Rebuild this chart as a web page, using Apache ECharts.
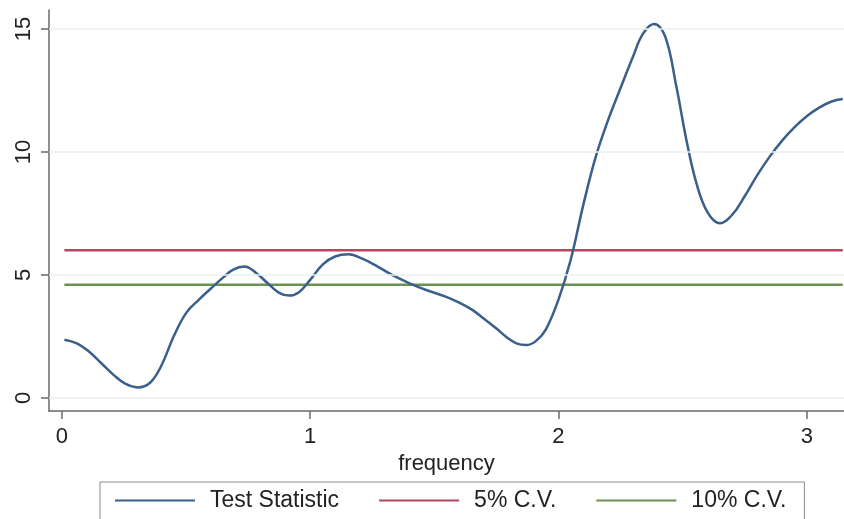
<!DOCTYPE html>
<html>
<head>
<meta charset="utf-8">
<title>Test Statistic by frequency</title>
<script src="https://cdn.jsdelivr.net/npm/echarts@6/dist/echarts.min.js"></script>
<style>
  html, body { margin: 0; padding: 0; background: #fff; }
  #chart { width: 844px; height: 519px; }
</style>
</head>
<body>
<div id="chart"></div>
<script>
// Test statistic traced over frequency (0 .. pi)
const frequency = [
  0.01, 0.06, 0.11, 0.16, 0.21, 0.255, 0.305, 0.355, 0.40, 0.45,
  0.50, 0.55, 0.60, 0.65, 0.69, 0.735, 0.78, 0.83, 0.875, 0.915,
  0.955, 1.00, 1.05, 1.10, 1.155, 1.21, 1.27, 1.33, 1.40, 1.47,
  1.54, 1.60, 1.65, 1.70, 1.75, 1.79, 1.83, 1.87, 1.91, 1.95,
  2.00, 2.05, 2.10, 2.15, 2.20, 2.25, 2.30, 2.34, 2.385, 2.43,
  2.475, 2.515, 2.555, 2.60, 2.65, 2.70, 2.75, 2.80, 2.85, 2.90,
  2.95, 3.00, 3.05, 3.10, 3.145
];
const testStatistic = [
  2.37, 2.22, 1.88, 1.40, 0.92, 0.58, 0.43, 0.62, 1.30, 2.50,
  3.45, 3.98, 4.45, 4.90, 5.22, 5.34, 5.10, 4.65, 4.27, 4.16,
  4.30, 4.80, 5.42, 5.75, 5.84, 5.66, 5.35, 5.00, 4.66, 4.38,
  4.14, 3.88, 3.60, 3.22, 2.82, 2.48, 2.22, 2.15, 2.32, 2.80,
  4.00, 5.65, 7.85, 9.80, 11.30, 12.60, 13.87, 14.80, 15.20, 14.69,
  12.65, 10.50, 8.75, 7.55, 7.10, 7.45, 8.20, 9.05, 9.80, 10.45,
  11.00, 11.45, 11.80, 12.05, 12.15
];
// Critical values
const cv5 = 6.0;
const cv10 = 4.6;

const xTicks = [0, 1, 2, 3];
const yTicks = [0, 5, 10, 15];
const xRange = [-0.052, 3.15];
const yRange = [-0.53, 15.77];

const FONT = '"Liberation Sans", Arial, sans-serif';
const TEXT = '#222';
const AXIS = '#6a6a6a';
const BLUE = '#3a5f8b';
const RED = '#b4485c';
const GREEN = '#6b9150';
const GRID = '#e8f1f1';

const chart = echarts.init(document.getElementById('chart'), null, { renderer: 'canvas' });

const option = {
  animation: false,
  backgroundColor: '#fff',
  grid: { left: 49, right: 0, top: 10, bottom: 108, containLabel: false },
  xAxis: {
    type: 'value',
    min: xRange[0],
    max: xRange[1],
    name: 'frequency',
    nameLocation: 'middle',
    nameGap: 38,
    nameTextStyle: { fontFamily: FONT, fontSize: 22, color: TEXT },
    axisLine: { show: true, onZero: false, lineStyle: { color: AXIS, width: 1.5 } },
    axisTick: { show: true, length: 8, customValues: xTicks, lineStyle: { color: AXIS, width: 1.5 } },
    axisLabel: { customValues: xTicks, margin: 15, fontFamily: FONT, fontSize: 22, color: TEXT },
    splitLine: { show: false }
  },
  yAxis: {
    type: 'value',
    min: yRange[0],
    max: yRange[1],
    axisLine: { show: true, onZero: false, lineStyle: { color: AXIS, width: 1.5 } },
    axisTick: { show: true, length: 8, customValues: yTicks, lineStyle: { color: AXIS, width: 1.5 } },
    axisLabel: { customValues: yTicks, rotate: 90, margin: 14, fontFamily: FONT, fontSize: 22, color: TEXT },
    splitLine: { show: false }
  },
  legend: {
    left: 100,
    top: 482,
    orient: 'horizontal',
    padding: [7, 18, 10, 15],
    itemGap: 40,
    itemWidth: 80,
    itemHeight: 2,
    icon: 'rect',
    borderColor: '#8a8a8a',
    borderWidth: 1,
    textStyle: { fontFamily: FONT, fontSize: 23, color: TEXT, padding: [0, 0, 0, 10] },
    data: ['Test Statistic', '5% C.V.', '10% C.V.']
  },
  series: [
    {
      // horizontal gridlines at the y tick values
      name: 'grid',
      type: 'line',
      data: [],
      silent: true,
      markLine: {
        silent: true,
        symbol: 'none',
        label: { show: false },
        lineStyle: { color: GRID, width: 1.5, type: 'solid' },
        data: yTicks.map(v => ({ yAxis: v }))
      }
    },
    {
      name: '5% C.V.',
      type: 'line',
      showSymbol: false,
      color: RED,
      lineStyle: { color: RED, width: 2.5 },
      data: [[frequency[0], cv5], [frequency[frequency.length - 1], cv5]]
    },
    {
      name: '10% C.V.',
      type: 'line',
      showSymbol: false,
      color: GREEN,
      lineStyle: { color: GREEN, width: 2.5 },
      data: [[frequency[0], cv10], [frequency[frequency.length - 1], cv10]]
    },
    {
      name: 'Test Statistic',
      type: 'line',
      smooth: 0.4,
      showSymbol: false,
      color: BLUE,
      lineStyle: { color: BLUE, width: 2.5 },
      data: frequency.map((f, i) => [f, testStatistic[i]])
    }
  ]
};

chart.setOption(option);
</script>
</body>
</html>
